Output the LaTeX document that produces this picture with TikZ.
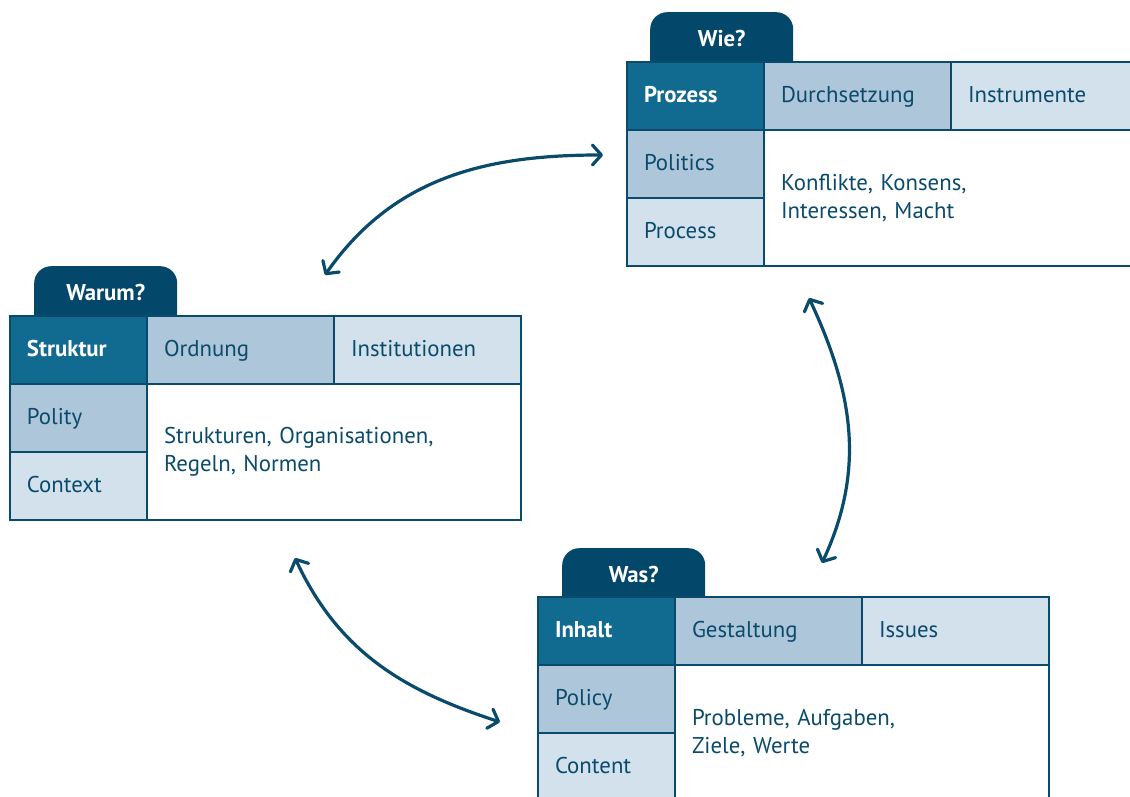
\documentclass[tikz,border=0pt]{standalone}
\usepackage{fontspec}
\setmainfont{PT Sans}
\usetikzlibrary{positioning,arrows.meta,backgrounds}

\definecolor{polnavy}{HTML}{03476B}
\definecolor{polteal}{HTML}{116A8F}
\definecolor{polmid}{HTML}{AEC6D9}
\definecolor{polpale}{HTML}{D3E1EC}
\definecolor{polline}{HTML}{0A4B6C}
\newcommand{\polfont}{\fontsize{22.8}{27.7}\selectfont}

\begin{document}
\begin{tikzpicture}[x=1pt,y=1pt,
    >={Straight Barb[length=9pt,width=20pt,round]},
    cell/.style={draw=polline, line width=2.8pt, outer sep=0pt, inner xsep=17pt, inner ysep=0pt,
      minimum height=68pt, text height=15pt, text depth=2pt, align=left, text=polline, font=\polfont},
    narrow/.style={text width=103pt},
    broad/.style={text width=153pt},
    darkcell/.style={cell, narrow, fill=polteal, text=white, font=\polfont\bfseries},
    midcell/.style={cell, fill=polmid},
    palecell/.style={cell, fill=polpale},
    body/.style={cell, fill=white, text width=340pt, minimum height=136pt, text height=, text depth=},
    tab/.style={fill=polnavy, rounded corners=17pt, minimum width=143pt, minimum height=70pt,
      inner sep=0pt, text height=15pt, text depth=17pt, text=white, font=\polfont\bfseries},
    link/.style={draw=polline, line width=3.2pt, line cap=round, <->}]
  \useasboundingbox (0,0) rectangle (1130,797);

  % Warum? -- Struktur
  \node[darkcell, anchor=north west] (s1) at (10,481) {Struktur};
  \node[midcell, broad, right=0pt of s1] (s2) {Ordnung};
  \node[palecell, broad, right=0pt of s2] (s3) {Institutionen};
  \node[midcell, narrow, below=0pt of s1] (s4) {Polity};
  \node[palecell, narrow, below=0pt of s4] (s5) {Context};
  \node[body, below right=0pt and 0pt of s1] (s6) {Strukturen, Organisationen,\\Regeln, Normen};

  % Wie? -- Prozess
  \node[darkcell, anchor=north west] (p1) at (627,735) {Prozess};
  \node[midcell, broad, right=0pt of p1] (p2) {Durchsetzung};
  \node[palecell, broad, right=0pt of p2] (p3) {Instrumente};
  \node[midcell, narrow, below=0pt of p1] (p4) {Politics};
  \node[palecell, narrow, below=0pt of p4] (p5) {Process};
  \node[body, below right=0pt and 0pt of p1] (p6) {Konflikte, Konsens,\\Interessen, Macht};

  % Was? -- Inhalt
  \node[darkcell, anchor=north west] (i1) at (538,200) {Inhalt};
  \node[midcell, broad, right=0pt of i1] (i2) {Gestaltung};
  \node[palecell, broad, right=0pt of i2] (i3) {Issues};
  \node[midcell, narrow, below=0pt of i1] (i4) {Policy};
  \node[palecell, narrow, below=0pt of i4] (i5) {Content};
  \node[body, below right=0pt and 0pt of i1] (i6) {Probleme, Aufgaben,\\Ziele, Werte};

  % tabs behind the tables
  \begin{scope}[on background layer]
    \node[tab, anchor=north west] (stab) at ([shift={(24,50)}]s1.north west) {Warum?};
    \node[tab, anchor=north west] (ptab) at ([shift={(23,50)}]p1.north west) {Wie?};
    \node[tab, anchor=north west] (itab) at ([shift={(24,49)}]i1.north west) {Was?};
  \end{scope}

  % arrows
  \coordinate (sp) at (325,522);
  \coordinate (ps) at (603,642);
  \coordinate (pi) at (809,499);
  \coordinate (ip) at (822,234);
  \coordinate (si) at (295,239);
  \coordinate (is) at (500,75);
  \draw[link] (sp) to[out=55,in=180] (ps);
  \draw[link] (pi) to[out=-65,in=65] (ip);
  \draw[link] (si) to[out=-65,in=162] (is);
\end{tikzpicture}
\end{document}
